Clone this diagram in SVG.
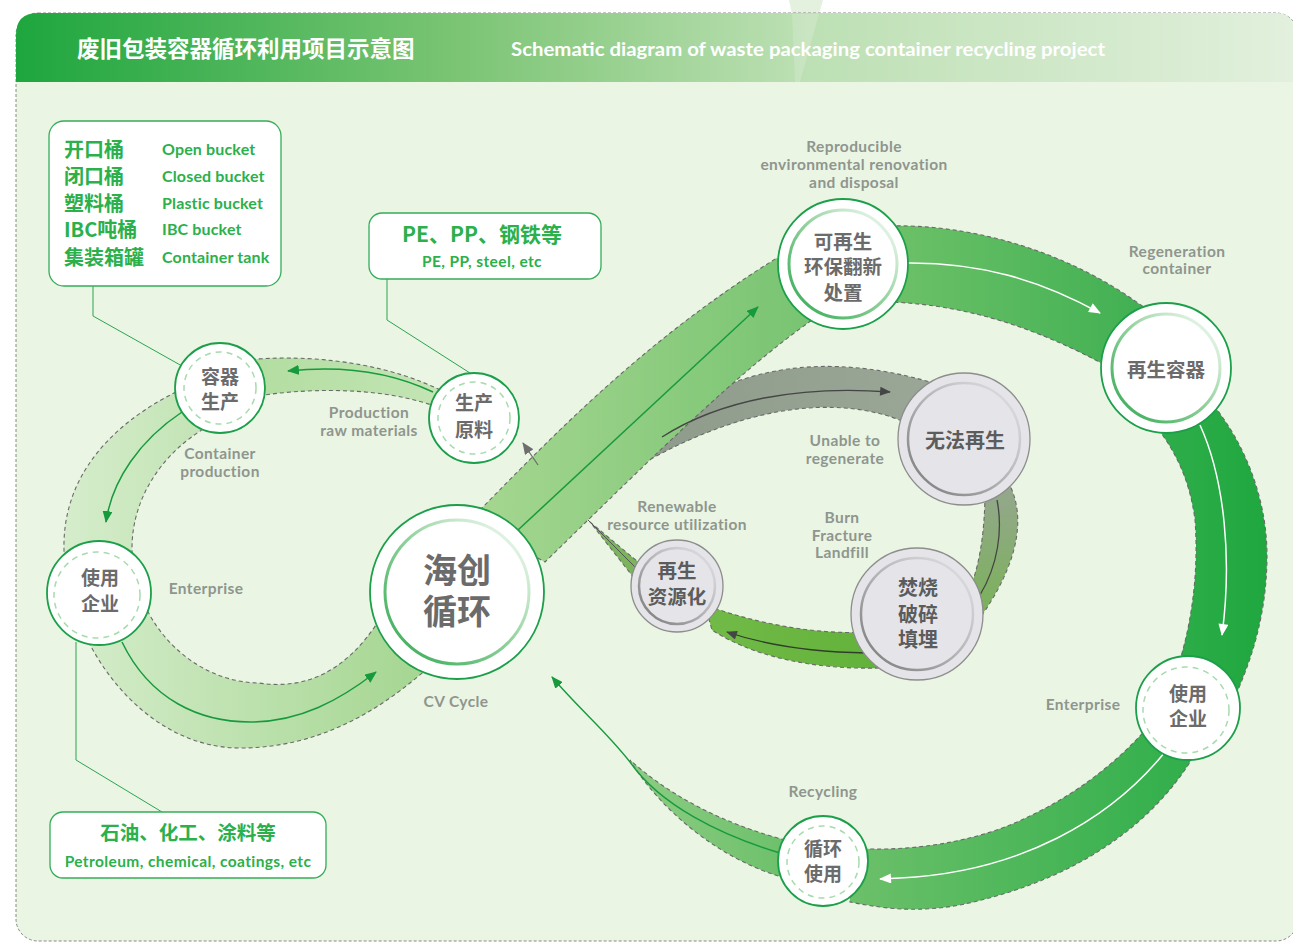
<svg xmlns="http://www.w3.org/2000/svg" width="1293" height="945" viewBox="0 0 1293 945">
<defs>
<style>
.band{stroke:#6a6a6a;stroke-width:1.1;stroke-dasharray:4 3}
.node{fill:#fff;stroke:#1c9f4a;stroke-width:1.8}
.dring{fill:none;stroke:#a6dbad;stroke-width:1.5;stroke-dasharray:6 5}
.gnode{fill:#e5e5e9;stroke:#8d8d8d;stroke-width:1.3}
.ct{font-family:"Noto Sans CJK SC","Noto Sans",sans-serif;font-weight:700;fill:#6b6b6b;text-anchor:middle}
.gt{font-family:"Noto Sans CJK SC","Noto Sans",sans-serif;font-weight:700;fill:#5c5c5c;text-anchor:middle}
.lab{font-family:Lato,"Liberation Sans",sans-serif;font-weight:700;font-size:15.5px;letter-spacing:0.4px;fill:#8f958f;text-anchor:middle}
.box{fill:#fff;stroke:#34ad5a;stroke-width:1.3}
.bcn{font-family:"Noto Sans CJK SC",sans-serif;font-weight:700;fill:#2bb04b}
.ben{font-family:Lato,"Liberation Sans",sans-serif;font-weight:700;fill:#2bb04b}
.lead{fill:none;stroke:#2aa552;stroke-width:1}
</style>
<linearGradient id="gHeader" gradientUnits="userSpaceOnUse" x1="16" y1="0" x2="1293" y2="0">
<stop offset="0" stop-color="#1ea63e"/><stop offset="0.35" stop-color="#7cc575"/><stop offset="0.62" stop-color="#bde0b4"/><stop offset="1" stop-color="#e2f0dd"/>
</linearGradient>
<linearGradient id="gLeft" gradientUnits="userSpaceOnUse" x1="60" y1="0" x2="440" y2="0"><stop offset="0" stop-color="#d6edcc"/><stop offset="1" stop-color="#a3d58f"/></linearGradient>
<linearGradient id="gLeftTop" gradientUnits="userSpaceOnUse" x1="250" y1="0" x2="440" y2="0"><stop offset="0" stop-color="#b2dda0"/><stop offset="1" stop-color="#c3e5b4"/></linearGradient>
<linearGradient id="gMain" gradientUnits="userSpaceOnUse" x1="480" y1="0" x2="810" y2="0"><stop offset="0" stop-color="#a5d690"/><stop offset="1" stop-color="#78c472"/></linearGradient>
<linearGradient id="gTopR" gradientUnits="userSpaceOnUse" x1="890" y1="0" x2="1145" y2="0"><stop offset="0" stop-color="#6dc168"/><stop offset="1" stop-color="#40b052"/></linearGradient>
<linearGradient id="gRight" gradientUnits="userSpaceOnUse" x1="1150" y1="0" x2="1270" y2="0"><stop offset="0" stop-color="#30ae4b"/><stop offset="1" stop-color="#1fa73f"/></linearGradient>
<linearGradient id="gBotR" gradientUnits="userSpaceOnUse" x1="850" y1="0" x2="1200" y2="0"><stop offset="0" stop-color="#6cc06a"/><stop offset="1" stop-color="#2fae4a"/></linearGradient>
<linearGradient id="gRib" gradientUnits="userSpaceOnUse" x1="620" y1="0" x2="790" y2="0"><stop offset="0" stop-color="#8fcd85"/><stop offset="1" stop-color="#6cc06a"/></linearGradient>
<linearGradient id="gGray" gradientUnits="userSpaceOnUse" x1="620" y1="0" x2="930" y2="0"><stop offset="0" stop-color="#8d9a8a"/><stop offset="1" stop-color="#9aa696"/></linearGradient>
<linearGradient id="gGG" gradientUnits="userSpaceOnUse" x1="0" y1="470" x2="0" y2="620"><stop offset="0" stop-color="#98a694"/><stop offset="1" stop-color="#79b257"/></linearGradient>
<linearGradient id="gBot" gradientUnits="userSpaceOnUse" x1="705" y1="0" x2="880" y2="0"><stop offset="0" stop-color="#72ba48"/><stop offset="1" stop-color="#62b23a"/></linearGradient>
<linearGradient id="gRingG" x1="0" y1="1" x2="1" y2="0"><stop offset="0" stop-color="#2ea84f"/><stop offset="0.5" stop-color="#8fd09a"/><stop offset="1" stop-color="#ffffff"/></linearGradient>
<linearGradient id="gRingGr" x1="0" y1="1" x2="1" y2="0"><stop offset="0" stop-color="#777"/><stop offset="0.5" stop-color="#b5b5b8"/><stop offset="1" stop-color="#e5e5e9"/></linearGradient>
<marker id="aG" viewBox="0 0 12 10" refX="11" refY="5" markerWidth="12" markerHeight="10" markerUnits="userSpaceOnUse" orient="auto"><path d="M0,0 L12,5 L0,10 Z" fill="#179a3e"/></marker>
<marker id="aW" viewBox="0 0 12 10" refX="11" refY="5" markerWidth="13" markerHeight="10" markerUnits="userSpaceOnUse" orient="auto"><path d="M0,0 L12,5 L0,10 Z" fill="#ffffff"/></marker>
<marker id="aD" viewBox="0 0 12 10" refX="11" refY="5" markerWidth="12" markerHeight="9" markerUnits="userSpaceOnUse" orient="auto"><path d="M0,0 L12,5 L0,10 Z" fill="#454545"/></marker>
<marker id="aGr" viewBox="0 0 12 10" refX="11" refY="5" markerWidth="12" markerHeight="10" markerUnits="userSpaceOnUse" orient="auto"><path d="M0,0 L12,5 L0,10 Z" fill="#6e6e6e"/></marker>
</defs>

<rect x="0" y="0" width="1293" height="945" fill="#ffffff"/>
<polygon points="789,0 823,0 819,14 792,14" fill="#e3f1de"/>
<rect x="16" y="13" width="1282" height="928" rx="22" fill="#eaf5e3" stroke="#8a8a8a" stroke-width="1" stroke-dasharray="3 2"/>
<path d="M16,82 L16,35 Q16,13 38,13 L1276,13 Q1293,13 1293,30 L1293,82 Z" fill="url(#gHeader)"/>
<polygon points="792,14 819,14 800,82 795,82" fill="#ffffff" opacity="0.18"/>
<text x="77" y="56.5" font-family="Noto Sans CJK SC,sans-serif" font-weight="700" font-size="22.5" fill="#ffffff">废旧包装容器循环利用项目示意图</text>
<text x="511" y="56" font-family="Lato,Liberation Sans,sans-serif" font-weight="700" font-size="18" fill="#ffffff" textLength="594" lengthAdjust="spacingAndGlyphs">Schematic diagram of waste packaging container recycling project</text>

<g id="connectors">
<path class="band" fill="url(#gGray)" d="M688,405 C740,372 820,350 930,382 L905,422 C840,395 740,400 612,482 Z"/>
<path class="band" fill="url(#gBot)" d="M870,632 C820,635 760,625 705,605 L712,630 C750,655 810,670 880,668 Z"/>
<path class="band" fill="url(#gGG)" d="M1000,470 C1025,500 1028,550 980,618 L965,600 C980,570 985,530 985,490 Z"/>
<path class="band" fill="#7bb45c" d="M590,522 L643,566 L634,578 Z"/>
<path d="M583,515 L638,570" fill="none" stroke="#555" stroke-width="1"/>
<path class="band" fill="url(#gLeftTop)" d="M440,390 C400,370 330,352 245,360 L245,398 C300,388 380,385 440,408 Z"/>
<path class="band" fill="url(#gLeft)" d="M176,392 C120,420 62,470 64,550 C66,640 140,748 240,748 C320,748 380,710 428,668 L378,622 C345,672 305,690 259,683 C190,682 132,620 132,548 C132,500 160,455 205,428 Z"/>
<path class="band" fill="url(#gMain)" d="M470,520 C540,450 640,340 790,250 L815,318 C740,370 660,450 545,562 Z"/>
<path class="band" fill="url(#gTopR)" d="M890,226 C960,224 1060,245 1145,308 L1105,365 C1040,330 970,305 890,302 Z"/>
<path class="band" fill="url(#gRight)" d="M1205,395 C1245,440 1268,500 1267,560 C1266,610 1255,650 1238,690 L1180,660 C1195,610 1198,560 1195,520 C1190,480 1175,450 1155,425 Z"/>
<path class="band" fill="url(#gBotR)" d="M1200,745 C1160,820 1080,880 960,905 C920,912 890,910 850,902 L850,848 C900,852 960,845 1010,825 C1070,800 1115,765 1150,725 Z"/>
<path class="band" fill="url(#gRib)" d="M785,840 C740,828 680,805 630,760 C660,810 720,860 785,878 Z"/>

<path d="M433,392 Q370,362 288,371" fill="none" stroke="#179a3e" stroke-width="1.5" marker-end="url(#aG)"/>
<path d="M182,412 C140,440 112,480 106,522" fill="none" stroke="#179a3e" stroke-width="1.5" marker-end="url(#aG)"/>
<path d="M122,642 C150,700 200,722 250,722 C300,722 340,700 376,672" fill="none" stroke="#179a3e" stroke-width="1.5" marker-end="url(#aG)"/>
<path d="M518,530 L758,307" fill="none" stroke="#179a3e" stroke-width="1.5" marker-end="url(#aG)"/>
<path d="M905,263 C980,262 1040,280 1100,313" fill="none" stroke="#ffffff" stroke-width="1.5" marker-end="url(#aW)"/>
<path d="M1200,425 C1225,480 1232,560 1222,635" fill="none" stroke="#ffffff" stroke-width="1.5" marker-end="url(#aW)"/>
<path d="M1165,752 C1110,820 1020,872 900,878 L880,879" fill="none" stroke="#ffffff" stroke-width="1.5" marker-end="url(#aW)"/>
<path d="M780,853 C720,835 660,805 630,762 C605,730 580,710 552,677" fill="none" stroke="#179a3e" stroke-width="1.4" marker-end="url(#aG)"/>
<path d="M662,437 C720,400 800,385 890,392" fill="none" stroke="#454545" stroke-width="1.3" marker-end="url(#aD)"/>
<path d="M997,500 C1003,530 998,565 980,595" fill="none" stroke="#454545" stroke-width="1.3"/>
<path d="M867,653 C810,652 765,645 727,632" fill="none" stroke="#2f3f2a" stroke-width="1.3" marker-end="url(#aD)"/>
<path d="M538,465 L523,443" fill="none" stroke="#6e6e6e" stroke-width="1.3" marker-end="url(#aGr)"/>

<path class="lead" d="M93,286 L93,316 L182,366"/>
<path class="lead" d="M387,279 L387,320 L470,373"/>
<path class="lead" d="M76,642 L76,760 L162,812"/>
</g>

<g id="box-types">
<rect class="box" x="49" y="121" width="232" height="165" rx="15"/>
<text class="bcn" x="64" y="157" font-size="20"><tspan x="64" y="157">开口桶</tspan><tspan x="64" y="184">闭口桶</tspan><tspan x="64" y="211">塑料桶</tspan><tspan x="64" y="237">IBC吨桶</tspan><tspan x="64" y="265">集装箱罐</tspan></text>
<text class="ben" x="162" y="155" font-size="16" letter-spacing="0.15"><tspan x="162" y="155">Open bucket</tspan><tspan x="162" y="182">Closed bucket</tspan><tspan x="162" y="209">Plastic bucket</tspan><tspan x="162" y="235">IBC bucket</tspan><tspan x="162" y="263">Container tank</tspan></text>
</g>
<g id="box-materials">
<rect class="box" x="369" y="213" width="232" height="66" rx="13"/>
<text class="bcn" x="482" y="242" font-size="21" text-anchor="middle">PE、PP、钢铁等</text>
<text class="ben" x="482" y="267" font-size="15.5" letter-spacing="0.4" text-anchor="middle">PE, PP, steel, etc</text>
</g>
<g id="box-industry">
<rect class="box" x="50" y="812" width="276" height="66" rx="13"/>
<text class="bcn" x="188" y="840" font-size="19.5" text-anchor="middle">石油、化工、涂料等</text>
<text class="ben" x="188" y="867" font-size="15.5" letter-spacing="0.4" text-anchor="middle">Petroleum, chemical, coatings, etc</text>
</g>

<g id="node-container-production">
<circle class="node" cx="220" cy="388" r="45"/>
<circle class="dring" cx="220" cy="388" r="36"/>
<text class="ct" font-size="19"><tspan x="220" y="384">容器</tspan><tspan x="220" y="409">生产</tspan></text>
</g>
<g id="node-raw-materials">
<circle class="node" cx="474" cy="418" r="45"/>
<circle class="dring" cx="474" cy="418" r="36"/>
<text class="ct" font-size="19"><tspan x="474" y="410">生产</tspan><tspan x="474" y="437">原料</tspan></text>
</g>
<g id="node-enterprise-left">
<circle class="node" cx="99" cy="593" r="52"/>
<circle class="dring" cx="97" cy="595" r="43"/>
<text class="ct" font-size="19"><tspan x="100" y="585">使用</tspan><tspan x="100" y="611">企业</tspan></text>
</g>
<g id="node-center">
<circle class="node" cx="457" cy="592" r="87"/>
<circle cx="457" cy="592" r="72" fill="none" stroke="url(#gRingG)" stroke-width="3"/>
<text class="ct" font-size="34"><tspan x="457" y="583">海创</tspan><tspan x="457" y="624">循环</tspan></text>
</g>
<g id="node-renovation">
<circle class="node" cx="843" cy="264" r="65"/>
<circle cx="843" cy="264" r="54" fill="none" stroke="url(#gRingG)" stroke-width="3"/>
<text class="ct" font-size="19.5"><tspan x="843" y="249">可再生</tspan><tspan x="843" y="274">环保翻新</tspan><tspan x="843" y="300">处置</tspan></text>
</g>
<g id="node-regen-container">
<circle class="node" cx="1166" cy="368" r="65"/>
<circle cx="1166" cy="368" r="54" fill="none" stroke="url(#gRingG)" stroke-width="3"/>
<text class="ct" x="1166" y="377" font-size="19.5">再生容器</text>
</g>
<g id="node-enterprise-right">
<circle class="node" cx="1188" cy="708" r="52"/>
<circle class="dring" cx="1186" cy="710" r="43"/>
<text class="ct" font-size="19"><tspan x="1188" y="701">使用</tspan><tspan x="1188" y="726">企业</tspan></text>
</g>
<g id="node-recycle-use">
<circle class="node" cx="823" cy="861" r="45"/>
<circle class="dring" cx="823" cy="862" r="36"/>
<text class="ct" font-size="19"><tspan x="823" y="856">循环</tspan><tspan x="823" y="881">使用</tspan></text>
</g>
<g id="node-unable">
<circle class="gnode" cx="964" cy="439" r="66"/>
<circle cx="964" cy="439" r="56" fill="none" stroke="url(#gRingGr)" stroke-width="2.5"/>
<text class="gt" x="965" y="448" font-size="20">无法再生</text>
</g>
<g id="node-burn">
<circle class="gnode" cx="917" cy="614" r="66"/>
<circle cx="917" cy="614" r="56" fill="none" stroke="url(#gRingGr)" stroke-width="2.5"/>
<text class="gt" font-size="20"><tspan x="918" y="595">焚烧</tspan><tspan x="918" y="622">破碎</tspan><tspan x="918" y="647">填埋</tspan></text>
</g>
<g id="node-resource">
<circle class="gnode" cx="677" cy="586" r="46"/>
<circle cx="677" cy="586" r="38" fill="none" stroke="url(#gRingGr)" stroke-width="2.5"/>
<text class="gt" font-size="19.5"><tspan x="677" y="578">再生</tspan><tspan x="677" y="604">资源化</tspan></text>
</g>

<g id="labels">
<text class="lab"><tspan x="854" y="152">Reproducible</tspan><tspan x="854" y="170">environmental renovation</tspan><tspan x="854" y="188">and disposal</tspan></text>
<text class="lab"><tspan x="1177" y="257">Regeneration</tspan><tspan x="1177" y="274">container</tspan></text>
<text class="lab"><tspan x="369" y="418">Production</tspan><tspan x="369" y="436">raw materials</tspan></text>
<text class="lab"><tspan x="220" y="459">Container</tspan><tspan x="220" y="477">production</tspan></text>
<text class="lab" x="206" y="594">Enterprise</text>
<text class="lab" x="456" y="707">CV Cycle</text>
<text class="lab"><tspan x="845" y="446">Unable to</tspan><tspan x="845" y="464">regenerate</tspan></text>
<text class="lab"><tspan x="677" y="512">Renewable</tspan><tspan x="677" y="530">resource utilization</tspan></text>
<text class="lab"><tspan x="842" y="523">Burn</tspan><tspan x="842" y="541">Fracture</tspan><tspan x="842" y="558">Landfill</tspan></text>
<text class="lab" x="1083" y="710">Enterprise</text>
<text class="lab" x="823" y="797">Recycling</text>
</g>
</svg>
